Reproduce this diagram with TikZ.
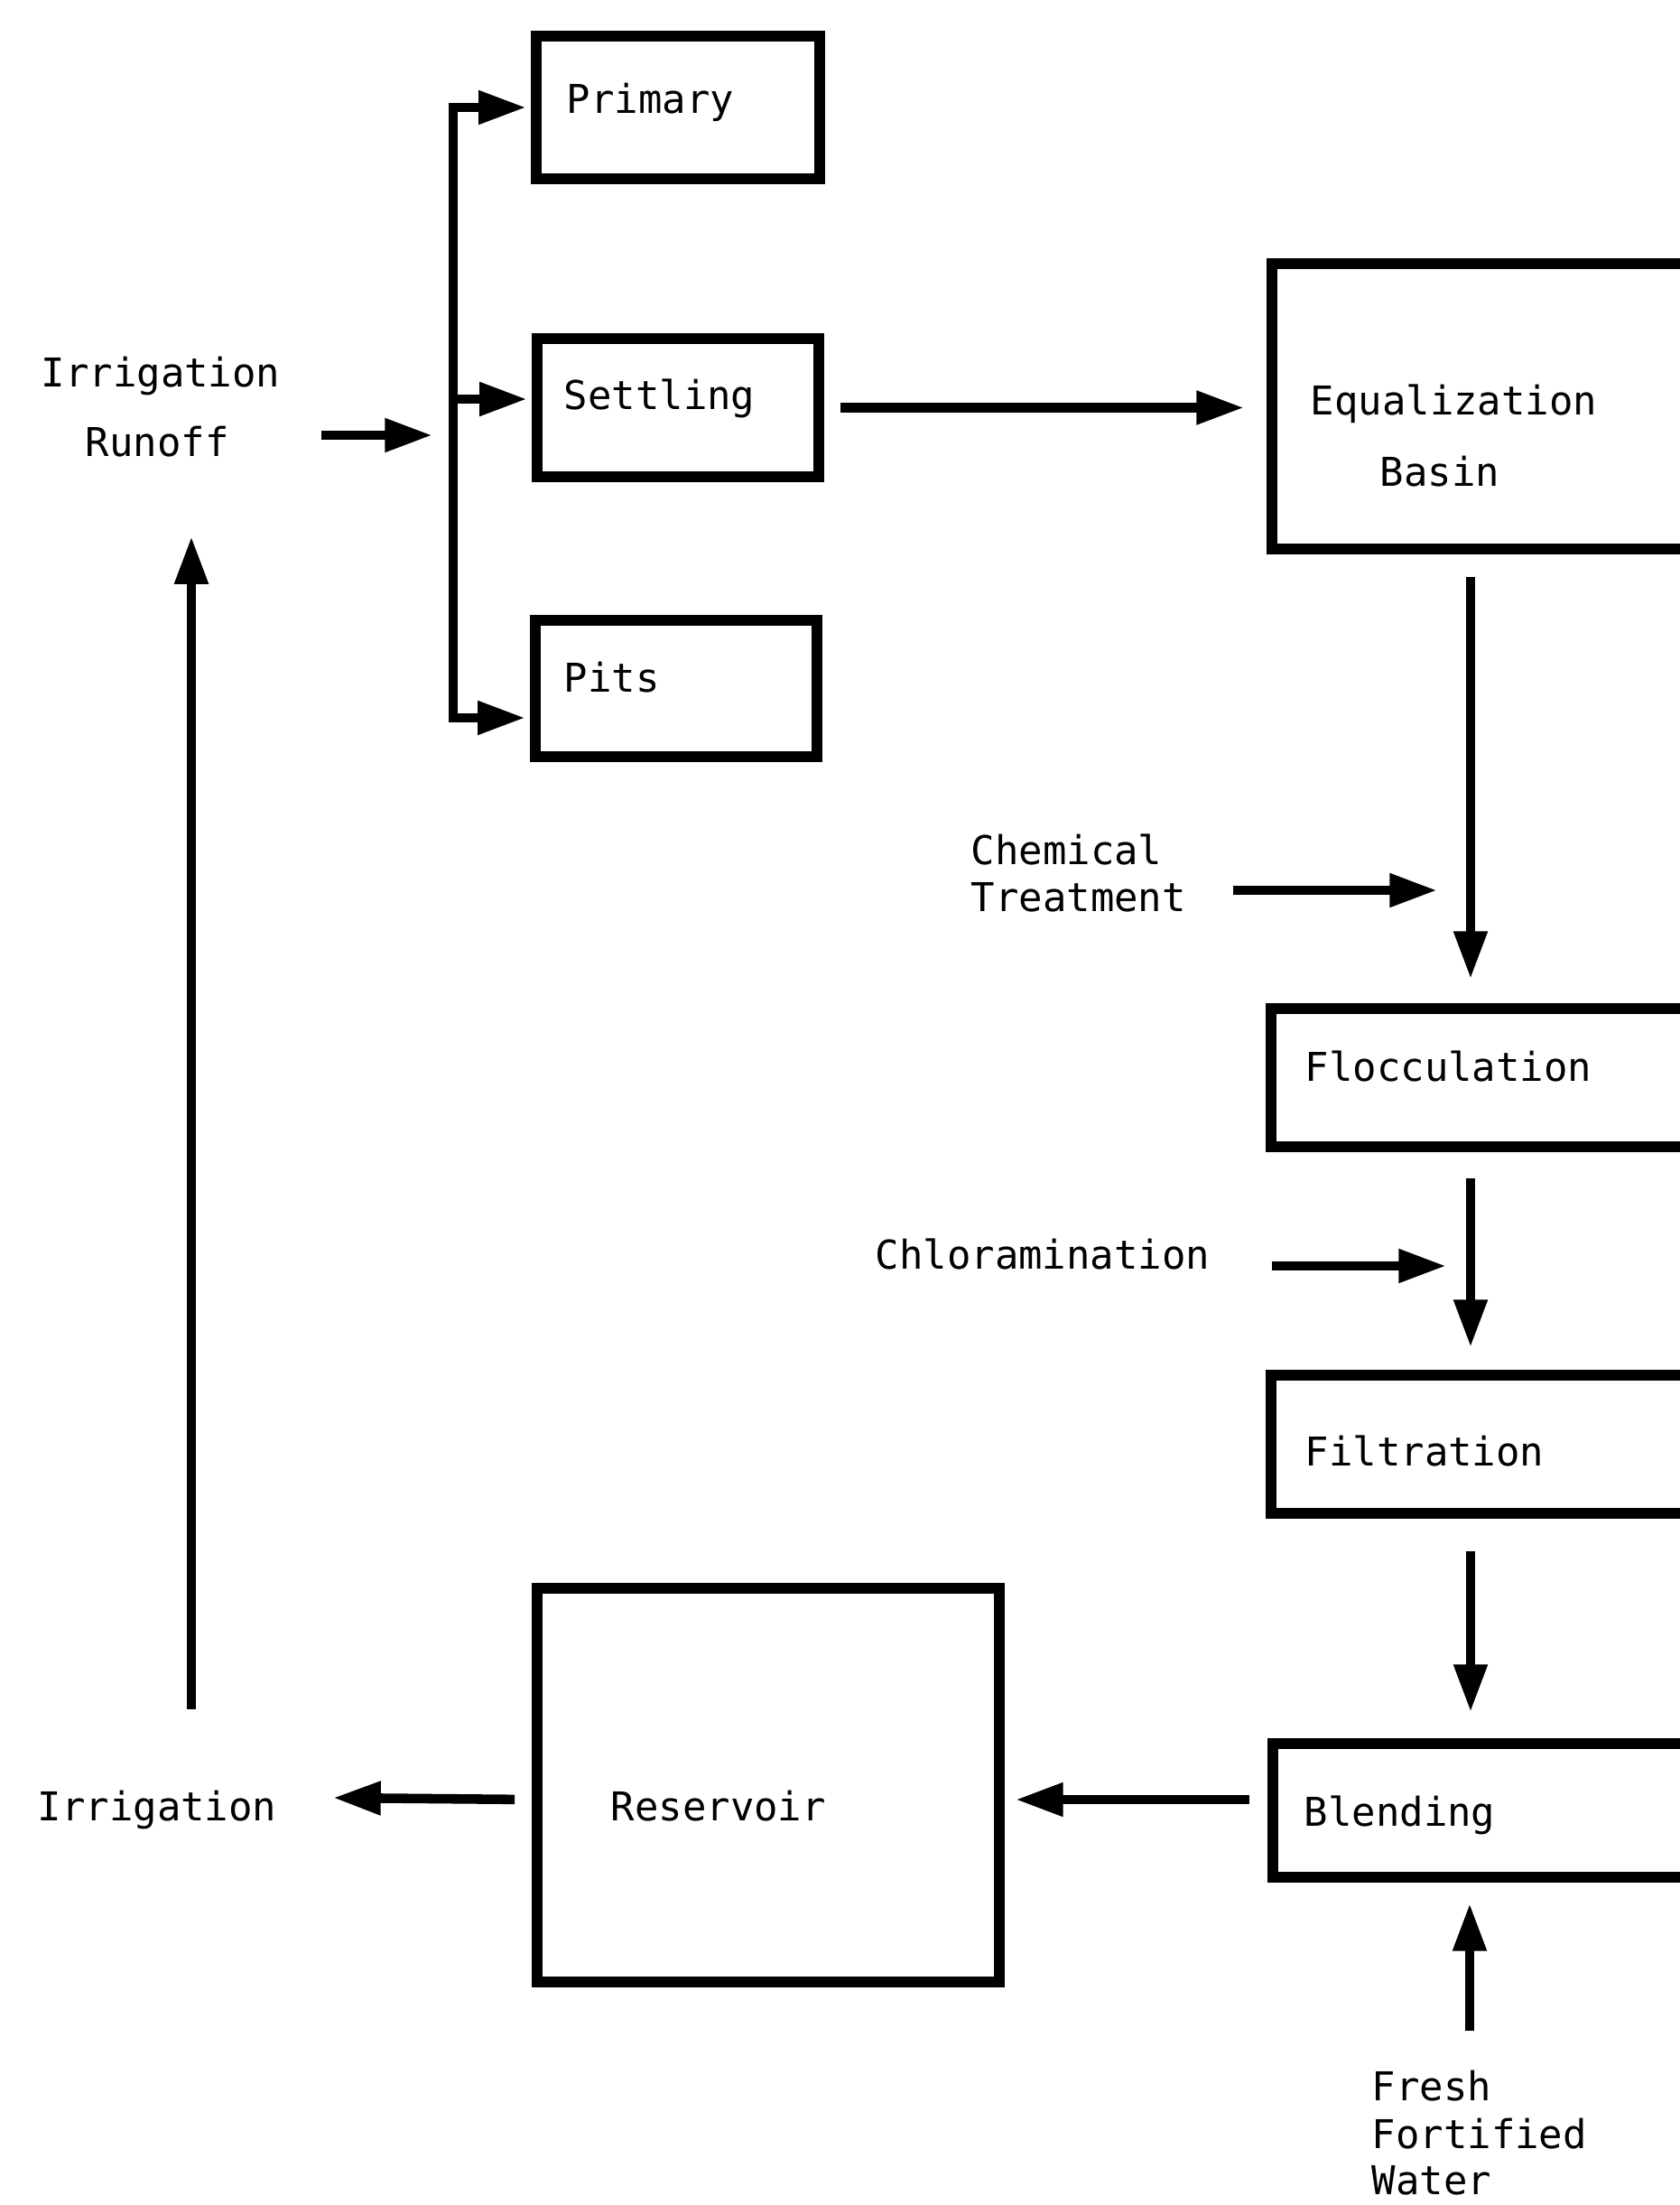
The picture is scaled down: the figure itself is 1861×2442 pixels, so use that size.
\documentclass[tikz,border=0pt]{standalone}
\usepackage{fontspec}
\newfontfamily\dmono{DejaVu Sans Mono}
\usetikzlibrary{arrows.meta}
\begin{document}
\begin{tikzpicture}[x=0.01cm,y=-0.01cm,
  box/.style={draw, line width=3.3pt, inner sep=0pt},
  conn/.style={line width=3pt},
  arr/.style={conn, -{Triangle[length=15pt,width=10pt]}},
  lbl/.style={font=\dmono\fontsize{12.5}{15}\selectfont, inner sep=0pt, anchor=base west}]
\useasboundingbox (0,0) rectangle (1861,2442);
\clip (0,0) rectangle (1861,2442);
\fill[white] (0,0) rectangle (1861,2442);

% boxes
\node[box, minimum width=3.14cm, minimum height=1.58cm] (prim) at (751,119) {};
\node[box, minimum width=3.12cm, minimum height=1.53cm] (sett) at (751,451.5) {};
\node[box, minimum width=3.12cm, minimum height=1.51cm] (pits) at (749,762.5) {};
\node[box, minimum width=4.91cm, minimum height=3.16cm] (eq) at (1654.5,450) {};
\node[box, minimum width=4.92cm, minimum height=1.53cm] (floc) at (1654,1193.5) {};
\node[box, minimum width=4.92cm, minimum height=1.53cm] (filt) at (1654,1599.5) {};
\node[box, minimum width=4.90cm, minimum height=1.48cm] (blend) at (1655,2005) {};
\node[box, minimum width=5.12cm, minimum height=4.36cm] (res) at (851,1977) {};

% texts
\node[lbl] (irra) at (45,428) {Irrigation};
\node[lbl] (irrb) at (94,505) {Runoff};
\node[lbl] (primt) at (627,125) {Primary};
\node[lbl] (settt) at (624,453) {Settling};
\node[lbl] (pitst) at (624,766) {Pits};
\node[lbl] (eqa) at (1451,459) {Equalization};
\node[lbl] (eqb) at (1528,538) {Basin};
\node[lbl] (chema) at (1075,957) {Chemical};
\node[lbl] (chemb) at (1075,1009) {Treatment};
\node[lbl] (floct) at (1445,1197) {Flocculation};
\node[lbl] (chlor) at (969,1405) {Chloramination};
\node[lbl] (filtt) at (1445,1623) {Filtration};
\node[lbl] (blendt) at (1444,2022) {Blending};
\node[lbl] (rest) at (676,2016) {Reservoir};
\node[lbl] (irr) at (41,2016) {Irrigation};
\node[lbl] (fra) at (1519,2326) {Fresh};
\node[lbl] (frb) at (1519,2379) {Fortified};
\node[lbl] (frc) at (1519,2430) {Water};

% coordinates
\coordinate (bt) at (502,119);
\coordinate (bm) at (502,442);
\coordinate (bb) at (502,795);
\coordinate (ra) at (356,482);
\coordinate (rb) at (479,482);
\coordinate (vx) at (1629,0);
\coordinate (ca) at (1366,986);
\coordinate (cb) at (1592,986);
\coordinate (cla) at (1409,1402);
\coordinate (clb) at (1602,1402);
\coordinate (yb) at (0,1993);
\coordinate (ia) at (369,1991);
\coordinate (ua) at (212,1893);
\coordinate (ub) at (212,594);
\coordinate (fa) at (1628,2249);

% connectors
\draw[arr] (ra) -- (rb);
\draw[arr, shorten >=1.5pt] (bm) -- (bt) -- (prim.west);
\draw[arr, shorten >=1.5pt] (bm) -- (bm -| sett.west);
\draw[arr, shorten >=1.5pt] (bm) -- (bb) -- (bb -| pits.west);
\draw[arr, shorten <=0.18cm, shorten >=0.25cm] (sett.east) -- (sett.east -| eq.west);
\draw[arr, shorten <=0.25cm, shorten >=0.27cm] (vx |- eq.south) -- (vx |- floc.north);
\draw[arr] (ca) -- (cb);
\draw[arr, shorten <=0.29cm, shorten >=0.25cm] (vx |- floc.south) -- (vx |- filt.north);
\draw[arr] (cla) -- (clb);
\draw[arr, shorten <=0.36cm, shorten >=0.29cm] (vx |- filt.south) -- (vx |- blend.north);
\draw[arr, shorten <=0.2cm, shorten >=0.12cm] (blend.west |- yb) -- (res.east |- yb);
\draw[arr, shorten <=0.19cm] (res.west |- yb) -- (ia);
\draw[arr] (ua) -- (ub);
\draw[arr, shorten >=0.23cm] (fa) -- (fa |- blend.south);
\end{tikzpicture}
\end{document}
